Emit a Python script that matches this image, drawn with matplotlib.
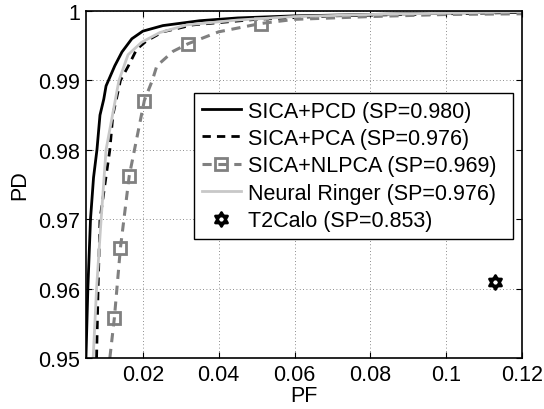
import numpy as np
import matplotlib
matplotlib.use("Agg")
from matplotlib import pyplot as plt
from matplotlib.path import Path

plt.rcParams['font.family'] = ['Liberation Sans', 'DejaVu Sans']
plt.rcParams['font.size'] = 15.5

# ROC curves (PF, PD)
pcd_pf = [0.0050, 0.0055, 0.0062, 0.0070, 0.0079, 0.0087, 0.0097, 0.0103, 0.0126, 0.0145,
          0.0171, 0.0200, 0.0253, 0.0350, 0.0450, 0.0600, 0.0800, 0.1000, 0.1200]
pcd_pd = [0.9500, 0.9600, 0.9700, 0.9760, 0.9800, 0.9850, 0.9873, 0.9892, 0.9921, 0.9941,
          0.9960, 0.9971, 0.9979, 0.9986, 0.9990, 0.9993, 0.9995, 0.9997, 0.9999]

pca_pf = [0.0078, 0.0082, 0.0087, 0.0113, 0.0121, 0.0141, 0.0162, 0.0184, 0.0210, 0.0253,
          0.0332, 0.0500, 0.0700, 0.1000, 0.1200]
pca_pd = [0.9500, 0.9600, 0.9700, 0.9800, 0.9850, 0.9900, 0.9921, 0.9945, 0.9957, 0.9970,
          0.9980, 0.9988, 0.9993, 0.9996, 0.9998]

nlpca_pf = [0.0113, 0.0125, 0.0141, 0.0164, 0.0204, 0.0225, 0.0237, 0.0280, 0.0320, 0.0400,
            0.0511, 0.0600, 0.0800, 0.1000, 0.1200]
nlpca_pd = [0.9500, 0.9558, 0.9659, 0.9762, 0.9871, 0.9900, 0.9921, 0.9942, 0.9953, 0.9970,
            0.9982, 0.9988, 0.9992, 0.9995, 0.9996]
nlpca_marks = [1, 2, 3, 4, 8, 10]

nr_pf = [0.0069, 0.0078, 0.0090, 0.0103, 0.0137, 0.0161, 0.0197, 0.0245, 0.0316, 0.0450,
         0.0600, 0.0800, 0.1000, 0.1200]
nr_pd = [0.9500, 0.9600, 0.9700, 0.9800, 0.9900, 0.9937, 0.9955, 0.9969, 0.9980, 0.9987,
         0.9992, 0.9995, 0.9997, 0.9999]

t2_pf = [0.1129]
t2_pd = [0.9610]

labels = ["SICA+PCD (SP=0.980)", "SICA+PCA (SP=0.976)", "SICA+NLPCA (SP=0.969)",
          "Neural Ringer (SP=0.976)", "T2Calo (SP=0.853)"]

# hexagram marker (two overlapping triangles)
c, s = 0.866, 0.5
verts = [(0, 1), (-c, -s), (c, -s), (0, 1), (0, -1), (c, s), (-c, s), (0, -1)]
codes = [Path.MOVETO, Path.LINETO, Path.LINETO, Path.CLOSEPOLY,
         Path.MOVETO, Path.LINETO, Path.LINETO, Path.CLOSEPOLY]
hexagram = Path(verts, codes)

fig = plt.figure(figsize=(5.44, 4.10), dpi=100)
ax = fig.add_axes([0.158, 0.1244, 0.8016, 0.8463])

ax.plot(pcd_pf, pcd_pd, '-', color='black', lw=2, label=labels[0])
ax.plot(pca_pf, pca_pd, '--', color='black', lw=2, dashes=(3, 2.2), label=labels[1])
ax.plot(nlpca_pf, nlpca_pd, '--', color='#808080', lw=2.2, dashes=(3, 2.2),
        marker='s', markevery=nlpca_marks, ms=8, mfc='none', mec='#808080', mew=2,
        label=labels[2])
ax.plot(nr_pf, nr_pd, '-', color='#c8c8c8', lw=2, label=labels[3])
ax.plot(t2_pf, t2_pd, linestyle='none', marker=hexagram, ms=10, mfc='white',
        mec='black', mew=2, label=labels[4])

ax.set_xlim(0.005, 0.12)
ax.set_ylim(0.95, 1.0)
ax.set_xticks([0.02, 0.04, 0.06, 0.08, 0.1, 0.12])
ax.set_xticklabels(["0.02", "0.04", "0.06", "0.08", "0.1", "0.12"])
ax.set_yticks([0.95, 0.96, 0.97, 0.98, 0.99, 1.0])
ax.set_yticklabels(["0.95", "0.96", "0.97", "0.98", "0.99", "1"])
ax.tick_params(direction='in', length=4, width=0.8, top=True, right=True, pad=4)
ax.grid(True, linestyle=(0, (1, 3)), color='black', lw=0.6, alpha=0.6)
for sp in ax.spines.values():
    sp.set_linewidth(1.2)

ax.set_xlabel("PF", labelpad=0)
ax.set_ylabel("PD", labelpad=6)

leg = ax.legend(loc='upper left', bbox_to_anchor=(0.2477, 0.3458, 0.7313, 0.4179),
                mode='expand', borderaxespad=0,
                fancybox=False, framealpha=1, edgecolor='black', numpoints=1,
                handlelength=1.85, handletextpad=0.3, labelspacing=0.3, borderpad=0.35)
leg.get_frame().set_linewidth(1.0)

fig.savefig("out.png", dpi=100)
